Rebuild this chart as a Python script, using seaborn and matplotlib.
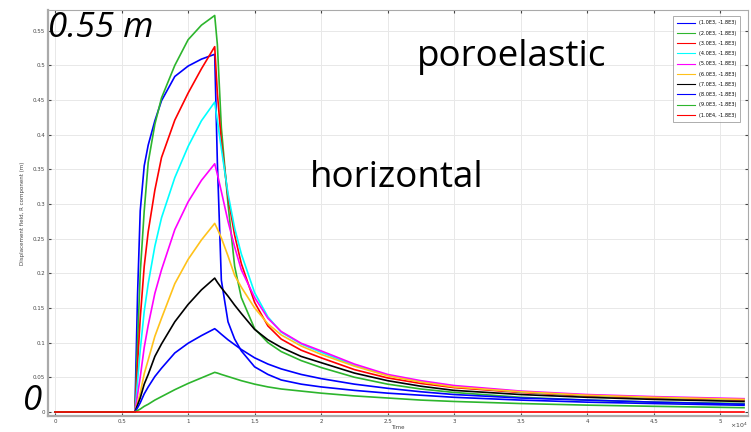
import pandas as pd
import seaborn as sns
import matplotlib.pyplot as plt
from matplotlib.ticker import FuncFormatter, MultipleLocator

# time in units of 1e4 s
t = [0, 0.6, 0.62, 0.64, 0.67, 0.7, 0.75, 0.8, 0.9, 1.0, 1.1, 1.2, 1.22, 1.25, 1.3, 1.35,
     1.4, 1.5, 1.6, 1.7, 1.85, 2.0, 2.25, 2.5, 2.75, 3.0, 3.5, 4.0, 4.5, 5.18]

labels = ['(1.0E3, -1.8E3)', '(2.0E3, -1.8E3)', '(3.0E3, -1.8E3)', '(4.0E3, -1.8E3)',
          '(5.0E3, -1.8E3)', '(6.0E3, -1.8E3)', '(7.0E3, -1.8E3)', '(8.0E3, -1.8E3)',
          '(9.0E3, -1.8E3)', '(1.0E4, -1.8E3)']

u1 = [0, 0, 0.17, 0.29, 0.355, 0.385, 0.42, 0.449, 0.484, 0.499, 0.509, 0.516, 0.36, 0.19, 0.13, 0.105,
      0.088, 0.065, 0.054, 0.046, 0.040, 0.036, 0.031, 0.027, 0.024, 0.021, 0.017, 0.014, 0.012, 0.0095]
u2 = [0, 0, 0.10, 0.20, 0.29, 0.36, 0.415, 0.453, 0.50, 0.537, 0.558, 0.572, 0.53, 0.41, 0.30, 0.21,
      0.165, 0.12, 0.10, 0.087, 0.074, 0.064, 0.050, 0.040, 0.033, 0.028, 0.021, 0.017, 0.014, 0.012]
u3 = [0, 0, 0.07, 0.135, 0.21, 0.26, 0.32, 0.367, 0.421, 0.46, 0.495, 0.527, 0.46, 0.39, 0.31, 0.255,
      0.214, 0.158, 0.124, 0.105, 0.089, 0.078, 0.061, 0.049, 0.041, 0.035, 0.028, 0.023, 0.020, 0.017]
u4 = [0, 0, 0.045, 0.089, 0.145, 0.185, 0.239, 0.28, 0.338, 0.383, 0.42, 0.447, 0.42, 0.38, 0.315, 0.265,
      0.228, 0.172, 0.137, 0.115, 0.098, 0.086, 0.067, 0.053, 0.044, 0.037, 0.029, 0.024, 0.021, 0.018]
u5 = [0, 0, 0.025, 0.05, 0.093, 0.125, 0.171, 0.205, 0.263, 0.303, 0.334, 0.358, 0.343, 0.318, 0.275, 0.238,
      0.205, 0.165, 0.135, 0.116, 0.099, 0.088, 0.069, 0.054, 0.045, 0.038, 0.030, 0.025, 0.022, 0.019]
u6 = [0, 0, 0.013, 0.027, 0.055, 0.075, 0.109, 0.135, 0.185, 0.22, 0.248, 0.272, 0.264, 0.251, 0.225, 0.197,
      0.18, 0.15, 0.127, 0.111, 0.095, 0.083, 0.066, 0.052, 0.043, 0.036, 0.029, 0.024, 0.021, 0.018]
u7 = [0, 0, 0.01, 0.02, 0.04, 0.054, 0.08, 0.098, 0.13, 0.155, 0.176, 0.193, 0.187, 0.179, 0.167, 0.154,
      0.142, 0.119, 0.104, 0.093, 0.08, 0.071, 0.056, 0.045, 0.037, 0.031, 0.025, 0.021, 0.018, 0.015]
u8 = [0, 0, 0.006, 0.013, 0.026, 0.036, 0.051, 0.063, 0.085, 0.099, 0.11, 0.12, 0.117, 0.112, 0.104, 0.097,
      0.09, 0.078, 0.069, 0.062, 0.054, 0.048, 0.04, 0.034, 0.029, 0.025, 0.02, 0.017, 0.014, 0.011]
u9 = [0, 0, 0.002, 0.004, 0.008, 0.011, 0.017, 0.022, 0.032, 0.041, 0.049, 0.057, 0.056, 0.054, 0.051, 0.048,
      0.045, 0.040, 0.036, 0.033, 0.03, 0.027, 0.023, 0.02, 0.017, 0.015, 0.012, 0.0097, 0.008, 0.006]
u10 = [0] * len(t)

series = [u1, u2, u3, u4, u5, u6, u7, u8, u9, u10]
colors = ['#0000ff', '#2db52d', '#ff0000', '#00ffff', '#ff00ff', '#ffc21a', '#000000',
          '#0000ff', '#2db52d', '#ff0000']

rows = []
for lab, vals in zip(labels, series):
    for ti, v in zip(t, vals):
        rows.append({'Time': ti, 'u': v, 'point': lab})
df = pd.DataFrame(rows)

fig = plt.figure(figsize=(7.51, 4.32), dpi=100)
ax = fig.add_axes([0.064, 0.037, 0.932, 0.94])

sns.lineplot(data=df, x='Time', y='u', hue='point', palette=dict(zip(labels, colors)),
             linewidth=1.2, ax=ax, sort=False, legend=False)

ax.set_xlim(-0.053, 5.21)
ax.set_ylim(-0.006, 0.58)
ax.xaxis.set_major_locator(MultipleLocator(0.5))
ax.yaxis.set_major_locator(MultipleLocator(0.05))
ax.xaxis.set_major_formatter(FuncFormatter(lambda v, p: '%g' % round(v, 2)))
ax.yaxis.set_major_formatter(FuncFormatter(lambda v, p: '%g' % round(v, 2)))
ax.tick_params(labelsize=4, colors='#444444', length=2, direction='in', right=True, top=True, pad=2)
ax.grid(color='#e8e8e8', linewidth=0.7)
ax.set_axisbelow(True)
for s in ax.spines.values():
    s.set_color('#aaaaaa')
    s.set_linewidth(0.8)
ax.spines['left'].set_linewidth(1.6)
ax.spines['bottom'].set_linewidth(1.6)

ax.set_xlabel('Time', fontsize=4, color='#444444', labelpad=1)
ax.set_ylabel('Displacement field, R component (m)', fontsize=4, color='#444444', labelpad=6)
ax.text(1.0, -0.012, '×10$^4$', transform=ax.transAxes, fontsize=4.5, color='#444444',
        ha='right', va='top')

handles = [plt.Line2D([], [], color=c, linewidth=0.8) for c in colors]
leg = ax.legend(handles, labels, loc='upper right', fontsize=3.6, frameon=True, fancybox=False,
                edgecolor='#888888', handlelength=3.5, labelspacing=1.05, borderpad=0.8,
                bbox_to_anchor=(0.992, 0.99))
leg.get_frame().set_linewidth(0.6)

fig.text(0.064, 0.975, '0.55 m', fontsize=25, style='italic', family='Open Sans', va='top')
fig.text(0.555, 0.91, 'poroelastic', fontsize=26.5, family='Open Sans', va='top')
fig.text(0.413, 0.63, 'horizontal', fontsize=26.5, family='Open Sans', va='top')
fig.text(0.030, 0.033, '0', fontsize=25, style='italic', family='Open Sans', va='bottom')

fig.savefig('out.png', dpi=100)
